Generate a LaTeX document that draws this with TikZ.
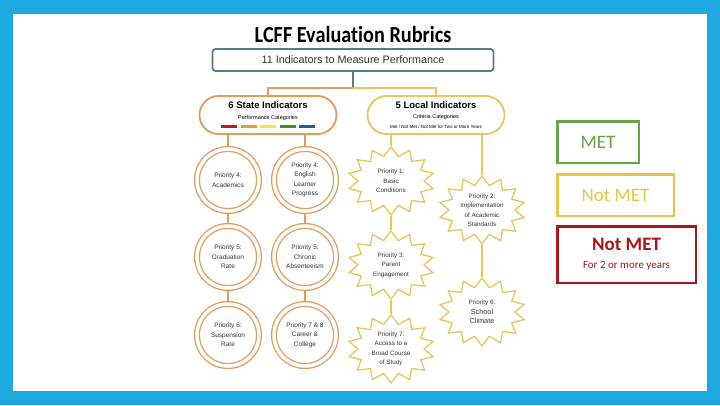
\documentclass[tikz,border=0pt]{standalone}
\usepackage{fontspec}
\setmainfont{Liberation Sans}
\newfontfamily\carlito[Ligatures=NoCommon]{Carlito}
\usetikzlibrary{shapes.geometric, calc}

\definecolor{frameblue}{HTML}{1EA9E0}
\definecolor{tealline}{HTML}{4F7F8F}
\definecolor{stateorange}{HTML}{E39B5A}
\definecolor{localyellow}{HTML}{E8C65C}
\definecolor{metgreen}{HTML}{6AA446}
\definecolor{notmetyellow}{HTML}{EBC445}
\definecolor{notmetred}{HTML}{A8151B}
\definecolor{textgray}{HTML}{333333}
\definecolor{barred}{HTML}{C0161E}
\definecolor{barorange}{HTML}{E89A3C}
\definecolor{baryellow}{HTML}{F2E640}
\definecolor{bargreen}{HTML}{3E8E2E}
\definecolor{barblue}{HTML}{2A5C9A}

% zig-zag outline round a star node
\newcommand{\starline}[1]{%
  \draw[localyellow, line width=1.3pt] ($(#1)+(90:43 and 34)$)
    \foreach \k in {0,...,13}{
      -- ($(#1)+({90+(\k+0.5)*360/14}:33 and 25)$)
      -- ($(#1)+({90+(\k+1)*360/14}:43 and 34)$)} -- cycle;}

\newcommand{\colourbars}{%
  \textcolor{barred}{\rule{16pt}{3pt}}\hspace{3.5pt}%
  \textcolor{barorange}{\rule{16pt}{3pt}}\hspace{3.5pt}%
  \textcolor{baryellow}{\rule{16pt}{3pt}}\hspace{3.5pt}%
  \textcolor{bargreen}{\rule{16pt}{3pt}}\hspace{3.5pt}%
  \textcolor{barblue}{\rule{16pt}{3pt}}}

\begin{document}
\begin{tikzpicture}[x=1pt, y=-1pt,
    top box/.style={draw=tealline, line width=1.8pt, rounded corners=3pt,
                    minimum width=281pt, minimum height=22pt, text=textgray,
                    font=\fontsize{10.8}{12}\selectfont},
    pill/.style={line width=1.8pt, rounded corners=19pt, minimum width=137pt,
                 minimum height=38pt, align=center, text=black},
    prio circle/.style={circle, draw=stateorange, double=white, line width=1.3pt,
                        double distance=3.5pt, minimum size=62pt, inner sep=0pt,
                        outer sep=3.05pt, align=center, text=textgray,
                        font=\fontsize{6.5}{9.5}\selectfont},
    prio star/.style={ellipse, minimum width=86pt, minimum height=68pt, inner sep=0pt,
                      outer sep=0.65pt, align=center, text=textgray,
                      font=\fontsize{6.3}{9.5}\selectfont},
    orangeline/.style={draw=stateorange, line width=1.5pt},
    yellowline/.style={draw=localyellow, line width=1.5pt},
    legend box/.style={line width=2.5pt, inner sep=0pt, align=center,
                       font=\carlito\fontsize{19}{21}\selectfont}]

    \useasboundingbox (0,0) rectangle (720,405);
    \fill[frameblue] (0,0) rectangle (720,405);
    \fill[white] (13,14) rectangle (707,391);

    \node[font=\carlito\bfseries\fontsize{23}{25}\selectfont] (title) at (353,35)
        {\scalebox{0.88}[1]{LCFF Evaluation Rubrics}};
    \node[top box] (indicators) at (353,60) {11 Indicators to Measure Performance};

    \node[pill, draw=stateorange] (state) at (268,115)
        {{\fontsize{9.5}{10}\selectfont\bfseries 6 State Indicators}\\[-1.5pt]
         {\fontsize{5.5}{6.5}\selectfont Performance Categories}\\[-3pt]
         \colourbars};
    \node[pill, draw=localyellow] (local) at (436,115)
        {{\fontsize{9.5}{10}\selectfont\bfseries 5 Local Indicators}\\[-1.5pt]
         {\fontsize{5.5}{6.5}\selectfont Criteria Categories}\\[-2pt]
         {\fontsize{4.5}{5}\selectfont Met / Not Met / Not Met for Two or More Years}};

    % state indicators
    \node[prio circle] (academics)  at (228,180) {Priority 4:\\Academics};
    \node[prio circle] (learner)    at (305,180) {Priority 4:\\English\\Learner\\Progress};
    \node[prio circle] (graduation) at (228,257) {Priority 5:\\Graduation\\Rate};
    \node[prio circle] (absence)    at (305,257) {Priority 5:\\Chronic\\Absenteeism};
    \node[prio circle] (suspension) at (228,335) {Priority 6:\\Suspension\\Rate};
    \node[prio circle] (career)     at (305,335) {Priority 7 \& 8\\Career \&\\College};

    % local indicators
    \node[prio star] (basic)      at (391,181) {Priority 1:\\Basic\\Conditions};
    \node[prio star] (parent)     at (391,265) {Priority 3:\\Parent\\Engagement};
    \node[prio star] (access)     at (391,349) {Priority 7:\\Access to a\\Broad Course\\of Study};
    \node[prio star] (standards)  at (482,210) {Priority 2:\\Implementation\\of Academic\\Standards};
    \node[prio star] (climate)    at (482,312) {Priority 6:\\{\fontsize{7.3}{9.5}\selectfont School}\\{\fontsize{7.3}{9.5}\selectfont Climate}};
    \foreach \s in {basic, parent, access, standards, climate} {\starline{\s}}

    % legend
    \node[legend box, draw=metgreen, text=metgreen, minimum width=81.5pt,
          minimum height=41.5pt] (met) at (598,142) {MET};
    \node[legend box, draw=notmetyellow, text=notmetyellow, minimum width=116.5pt,
          minimum height=41.5pt] (notmet) at (615.5,195) {Not MET};
    \node[legend box, draw=notmetred, text=notmetred, minimum width=138.5pt,
          minimum height=56.5pt] (notmettwo) at (626.5,254.5)
        {\textbf{Not MET}\\[-3pt]{\fontsize{11}{13}\selectfont For 2 or more years}};

    % tree lines
    \coordinate (fork) at (353,88);
    \draw[tealline, line width=1.5pt] (indicators) -- (fork);
    \draw[orangeline] (fork) -| (state.north);
    \draw[yellowline] (fork) -| (local.north);

    \draw[orangeline] (academics.north |- state.south) -- (academics.north);
    \draw[orangeline] (learner.north |- state.south) -- (learner.north);
    \draw[orangeline] (academics) -- (graduation);
    \draw[orangeline] (graduation) -- (suspension);
    \draw[orangeline] (learner) -- (absence);
    \draw[orangeline] (absence) -- (career);

    \draw[yellowline] (basic.north |- local.south) -- (basic.north);
    \draw[yellowline] (standards.north |- local.south) -- (standards.north);
    \draw[yellowline] (basic) -- (parent);
    \draw[yellowline] (parent) -- (access);
    \draw[yellowline] (standards) -- (climate);

\end{tikzpicture}
\end{document}
